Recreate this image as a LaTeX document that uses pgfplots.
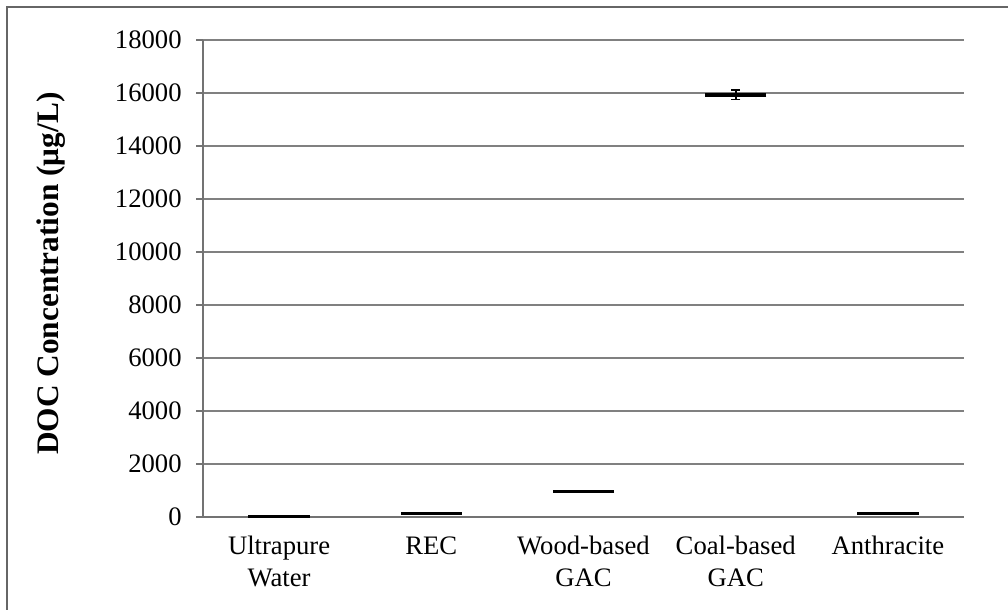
\documentclass[border=0pt]{standalone}
\usepackage{pgfplots}
\pgfplotsset{compat=1.18}
\usepackage{fontspec}
\setmainfont{Liberation Serif}

\begin{document}
\begin{tikzpicture}[x=1pt,y=1pt]
\useasboundingbox (0,0) rectangle (756,457.5);
% chart area frame
\draw[line width=1.5pt, color=black!60] (5.25,-10) -- (5.25,452.25) -- (770,452.25);
\begin{axis}[
  at={(152.25pt,69.75pt)}, anchor=south west,
  scale only axis, width=570.75pt, height=357.75pt,
  xmin=-0.5, xmax=4.5, ymin=0, ymax=18000,
  ytick={0,2000,...,18000},
  scaled y ticks=false,
  /pgf/number format/fixed,
  /pgf/number format/1000 sep={},
  /pgf/number format/assume math mode=true,
  xtick={0,...,4},
  xticklabels={{Ultrapure\\Water},REC,{Wood-based\\GAC},{Coal-based\\GAC},Anthracite},
  xticklabel style={align=center, font=\fontsize{20}{24}\selectfont, yshift=-6pt},
  yticklabel style={font=\fontsize{20}{24}\selectfont, xshift=-7.5pt},
  major x tick style={draw=none},
  extra x ticks={-0.5,0.5,1.5,2.5,3.5,4.5},
  extra x tick labels={},
  extra x tick style={grid=none, major tick length=5pt, tick style={draw=black!55, line width=1.2pt}},
  tick align=outside,
  major tick length=5pt,
  ytick style={draw=black!55, line width=1.2pt},
  ymajorgrids,
  grid style={black!50, line width=1.2pt},
  axis x line*=bottom, axis y line*=left,
  axis line style={black!55, line width=1.2pt, -},
  ylabel={\bfseries DOC Concentration (μg/L)},
  ylabel style={at={(axis description cs:-0.2,0.51)}, anchor=center, font=\fontsize{23.5}{27}\selectfont},
  clip=false,
]
\addplot[only marks, black, mark=-, mark size=23pt, mark options={line width=2.5pt},
  error bars/.cd, y dir=both, y explicit,
  error bar style={line width=1.2pt, black},
  error mark options={rotate=90, mark size=3.5pt, line width=1.2pt, black}]
  coordinates {
    (0,30) +- (0,10)
    (1,140) +- (0,30)
    (2,950) +- (0,15)
    (3,15930) +- (0,180)
    (4,120) +- (0,15)
  };
\end{axis}
\end{tikzpicture}
\end{document}
